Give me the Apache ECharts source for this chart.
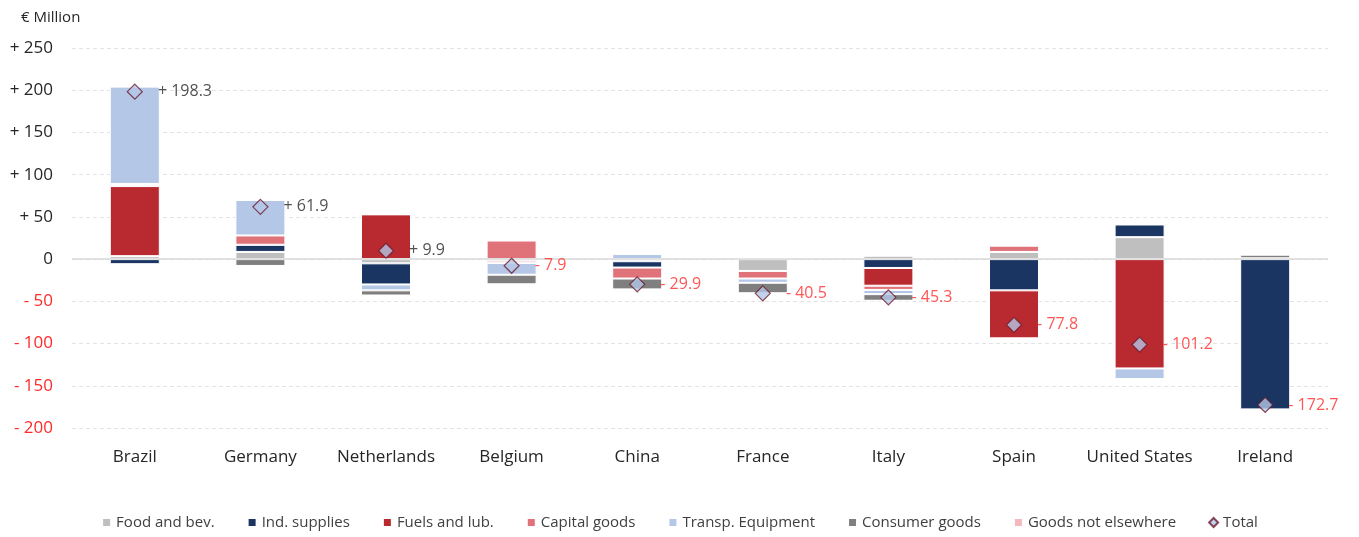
<!DOCTYPE html>
<html>
<head>
<meta charset="utf-8">
<script src="https://cdn.jsdelivr.net/npm/echarts@6/dist/echarts.min.js"></script>
<style>
html,body{margin:0;padding:0;background:#fff;}
#chart{width:1359px;height:537px;}
</style>
</head>
<body>
<div id="chart"></div>
<script>
var categories = ['Brazil','Germany','Netherlands','Belgium','China','France','Italy','Spain','United States','Ireland'];
var foodBev      = [3.5, 8.5, -5, 0, -2.5, -14, 4, 8.5, 26, 0];
var indSupplies  = [-6, 8.5, -25, -2, -7.5, 0, -10.5, -37, 15, -178];
var fuelsLub     = [83, 0, 53, -2.5, 0, 0, -21, -56.8, -129.5, 0];
var capitalGoods = [2.5, 11, 0, 22, -13, -9, -5, 7.5, 0, 1];
var transpEquip  = [115.3, 42, -7, -14, 6, -5, -5, 0, -12.7, 0];
var consumerGoods= [0, -8.1, -6.1, -11.4, -12.9, -12.5, -7.8, 0, 0, 4.3];
var goodsNE      = [0, 0, 0, 0, 0, 0, 0, 0, 0, 0];
var totals       = [198.3, 61.9, 9.9, -7.9, -29.9, -40.5, -45.3, -77.8, -101.2, -172.7];
var yTicks = {min: -200, max: 250, interval: 50};

var FONT = '"Open Sans", "Noto Sans", sans-serif';
var chart = echarts.init(document.getElementById('chart'));

function barSeries(name, data, color) {
  return {
    name: name, type: 'bar', stack: 'all', data: data, barWidth: 50,
    itemStyle: {color: color, borderColor: '#ffffff', borderWidth: 1},
    emphasis: {disabled: true}
  };
}
function fmtSigned(v, dec) {
  var s = dec ? Math.abs(v).toFixed(dec) : String(Math.abs(v));
  if (v > 0) return '+ ' + s;
  if (v < 0) return '- ' + s;
  return '0';
}

var totalData = totals.map(function (v) {
  return {value: v, label: {color: v < 0 ? '#ff2a2a' : '#262626'}};
});

chart.setOption({
  animation: false,
  backgroundColor: '#ffffff',
  title: {text: '€ Million', left: 16, top: 5, textStyle: {fontFamily: FONT, fontSize: 15, fontWeight: 'normal', color: '#262626'}},
  grid: {left: 72, right: 31, top: 48, bottom: 109, containLabel: false},
  legend: {
    bottom: 2, left: 'center', itemWidth: 9, itemHeight: 9, itemGap: 32,
    textStyle: {fontFamily: FONT, fontSize: 15, color: '#404040'},
    data: [
      {name: 'Food and bev.', icon: 'rect'},
      {name: 'Ind. supplies', icon: 'rect'},
      {name: 'Fuels and lub.', icon: 'rect'},
      {name: 'Capital goods', icon: 'rect'},
      {name: 'Transp. Equipment', icon: 'rect'},
      {name: 'Consumer goods', icon: 'rect'},
      {name: 'Goods not elsewhere', icon: 'rect'},
      {name: 'Total', icon: 'diamond'}
    ]
  },
  xAxis: {
    type: 'category', data: categories,
    axisLine: {show: false}, axisTick: {show: false},
    axisLabel: {interval: 0, fontFamily: FONT, fontSize: 17, color: '#262626', margin: 21}
  },
  yAxis: {
    type: 'value', min: yTicks.min, max: yTicks.max, interval: yTicks.interval,
    axisLine: {show: false}, axisTick: {show: false},
    splitLine: {show: true, lineStyle: {color: '#e3e3e3', type: [4, 3], width: 1}},
    axisLabel: {
      fontFamily: FONT, fontSize: 17, margin: 19,
      formatter: function (v) { return fmtSigned(v, 0); },
      color: function (v) { return Number(v) < 0 ? '#ff2a2a' : '#262626'; }
    }
  },
  series: [
    barSeries('Food and bev.', foodBev, '#bfbfbf'),
    barSeries('Ind. supplies', indSupplies, '#1b3563'),
    barSeries('Fuels and lub.', fuelsLub, '#b82930'),
    barSeries('Capital goods', capitalGoods, '#e0737a'),
    barSeries('Transp. Equipment', transpEquip, '#b4c7e7'),
    barSeries('Consumer goods', consumerGoods, '#7f7f7f'),
    barSeries('Goods not elsewhere', goodsNE, '#f4b9be'),
    {
      name: 'Zero', type: 'line', data: [], silent: true,
      markLine: {symbol: 'none', silent: true, label: {show: false},
        lineStyle: {color: '#d9d9d9', type: 'solid', width: 1.5}, data: [{yAxis: 0}]}
    },
    {
      name: 'Total', type: 'scatter', data: totalData, symbol: 'diamond', symbolSize: [15, 15], z: 10,
      itemStyle: {color: '#b4c7e7', borderColor: '#6b1a2b', borderWidth: 1.2},
      label: {
        show: true, position: 'right', distance: 15,
        fontFamily: FONT, fontSize: 16, color: '#262626',
        formatter: function (p) { return fmtSigned(p.value, 1); }
      }
    }
  ]
});
</script>
</body>
</html>
